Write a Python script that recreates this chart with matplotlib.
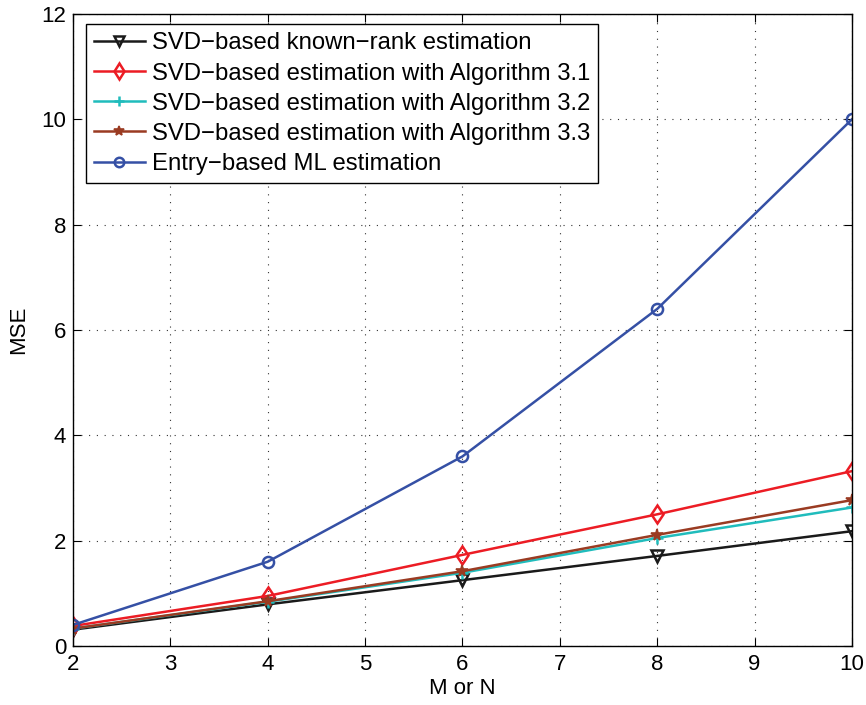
import matplotlib
matplotlib.use("Agg")
import matplotlib.pyplot as plt

# matrix size (M or N)
sizes = [2, 4, 6, 8, 10]

# MSE for each estimator
mse_known_rank = [0.31, 0.79, 1.25, 1.71, 2.18]
mse_alg31 = [0.38, 0.95, 1.73, 2.50, 3.32]
mse_alg32 = [0.33, 0.84, 1.39, 2.05, 2.63]
mse_alg33 = [0.33, 0.85, 1.42, 2.11, 2.77]
mse_entry_ml = [0.40, 1.60, 3.60, 6.40, 10.0]

labels = ["SVD\u2212based known\u2212rank estimation",
          "SVD\u2212based estimation with Algorithm 3.1",
          "SVD\u2212based estimation with Algorithm 3.2",
          "SVD\u2212based estimation with Algorithm 3.3",
          "Entry\u2212based ML estimation"]

plt.rcParams['font.family'] = ['Liberation Sans', 'DejaVu Sans']

fig = plt.figure(figsize=(8.66, 7.05), dpi=100)
ax = fig.add_axes([0.0843, 0.0837, 0.8995, 0.8965])

lw = 1.8
ax.plot(sizes, mse_known_rank, color='#1a1a1a', lw=lw, marker='v', ms=8.5,
        mfc='none', mew=1.8, label=labels[0])
ax.plot(sizes, mse_alg31, color='#ec1c24', lw=lw, marker='d', ms=9.5,
        mfc='none', mew=1.8, label=labels[1])
ax.plot(sizes, mse_alg32, color='#20bcbc', lw=lw, marker='+', ms=8.5,
        mew=1.8, label=labels[2])
ax.plot(sizes, mse_alg33, color='#9a3b22', lw=lw, marker='*', ms=8.5,
        mew=1.2, label=labels[3])
ax.plot(sizes, mse_entry_ml, color='#3550a5', lw=lw, marker='o', ms=8,
        mfc='none', mew=1.8, label=labels[4])

ax.set_xlim(2, 10)
ax.set_ylim(0, 12)
ax.set_xticks(range(2, 11))
ax.set_yticks(range(0, 13, 2))
ax.grid(True, color='#333333', linestyle=(0, (1, 6)), linewidth=0.8)
ax.tick_params(direction='in', top=True, right=True, labelsize=16, length=6)
ax.tick_params(axis='x', pad=6)
ax.tick_params(axis='y', pad=5)
for s in ax.spines.values():
    s.set_linewidth(1.0)

ax.set_xlabel("M or N", fontsize=16, labelpad=2)
ax.set_ylabel("MSE", fontsize=16, labelpad=9)

leg = ax.legend(loc='upper left', fontsize=17.2, fancybox=False, framealpha=1,
                edgecolor='black', handlelength=2.1, borderpad=0.35,
                labelspacing=0.34, handletextpad=0.3, borderaxespad=0,
                markerscale=0.85, bbox_to_anchor=(0.0167, 0.984))
leg.get_frame().set_linewidth(1.0)

fig.savefig("out.png", dpi=100)
